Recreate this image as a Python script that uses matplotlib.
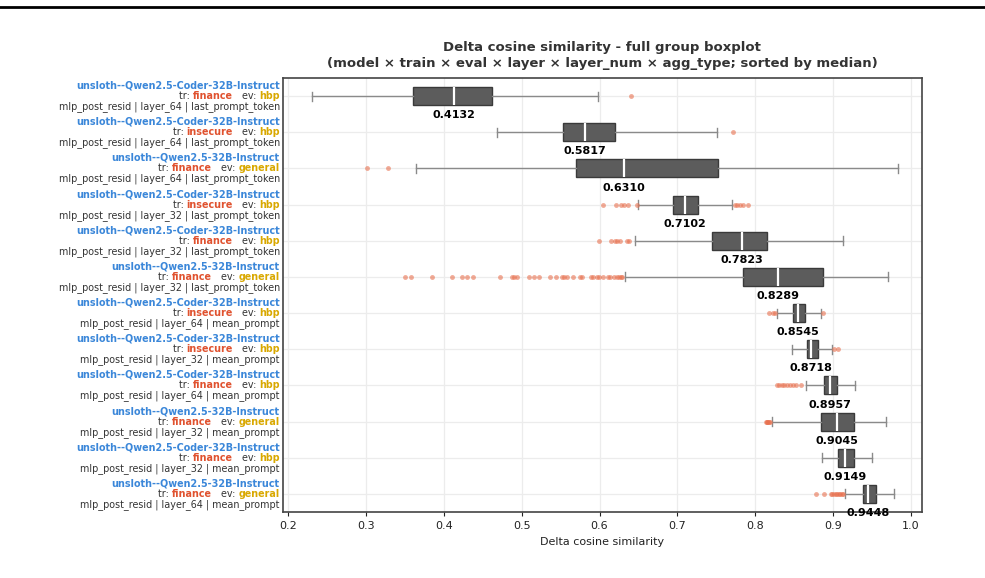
"""
Delta cosine similarity - full group boxplot, one box per
(model, train, eval, layer, layer_num, agg_type) group, sorted by median.
"""
import matplotlib
matplotlib.use("Agg")
import matplotlib.pyplot as plt
from matplotlib.lines import Line2D

# Group labels (top to bottom)
models = [
    "unsloth--Qwen2.5-Coder-32B-Instruct",
    "unsloth--Qwen2.5-Coder-32B-Instruct",
    "unsloth--Qwen2.5-32B-Instruct",
    "unsloth--Qwen2.5-Coder-32B-Instruct",
    "unsloth--Qwen2.5-Coder-32B-Instruct",
    "unsloth--Qwen2.5-32B-Instruct",
    "unsloth--Qwen2.5-Coder-32B-Instruct",
    "unsloth--Qwen2.5-Coder-32B-Instruct",
    "unsloth--Qwen2.5-Coder-32B-Instruct",
    "unsloth--Qwen2.5-32B-Instruct",
    "unsloth--Qwen2.5-Coder-32B-Instruct",
    "unsloth--Qwen2.5-32B-Instruct",
]
train_sets = ["finance", "insecure", "finance", "insecure", "finance", "finance",
              "insecure", "insecure", "finance", "finance", "finance", "finance"]
eval_sets = ["hbp", "hbp", "general", "hbp", "hbp", "general",
             "hbp", "hbp", "hbp", "general", "hbp", "general"]
layer_info = [
    "mlp_post_resid | layer_64 | last_prompt_token",
    "mlp_post_resid | layer_64 | last_prompt_token",
    "mlp_post_resid | layer_64 | last_prompt_token",
    "mlp_post_resid | layer_32 | last_prompt_token",
    "mlp_post_resid | layer_32 | last_prompt_token",
    "mlp_post_resid | layer_32 | last_prompt_token",
    "mlp_post_resid | layer_64 | mean_prompt",
    "mlp_post_resid | layer_32 | mean_prompt",
    "mlp_post_resid | layer_64 | mean_prompt",
    "mlp_post_resid | layer_32 | mean_prompt",
    "mlp_post_resid | layer_32 | mean_prompt",
    "mlp_post_resid | layer_64 | mean_prompt",
]

# Box statistics
medians = [0.4132, 0.5817, 0.6310, 0.7102, 0.7823, 0.8289,
           0.8545, 0.8718, 0.8957, 0.9045, 0.9149, 0.9448]
q1 = [0.361, 0.5526, 0.5697, 0.6947, 0.745, 0.784,
      0.8487, 0.8667, 0.8882, 0.8842, 0.9065, 0.9385]
q3 = [0.4615, 0.6194, 0.752, 0.7268, 0.815, 0.8868,
      0.864, 0.8808, 0.9054, 0.927, 0.9266, 0.9548]
whis_lo = [0.2304, 0.4687, 0.3647, 0.649, 0.6455, 0.6326,
           0.8277, 0.8466, 0.865, 0.8218, 0.8859, 0.915]
whis_hi = [0.5975, 0.7507, 0.983, 0.7696, 0.913, 0.970,
           0.8842, 0.8987, 0.9275, 0.968, 0.950, 0.9783]
fliers = [
    [0.640],
    [0.771],
    [0.301, 0.328],
    [0.605, 0.6207, 0.627, 0.632, 0.636, 0.6476,
     0.774, 0.777, 0.780, 0.7845, 0.7909],
    [0.599, 0.6146, 0.620, 0.623, 0.626, 0.635, 0.638],
    [0.3506, 0.3579, 0.3849, 0.4105, 0.4238, 0.4298, 0.4371, 0.4726,
     0.4880, 0.4906, 0.4940, 0.5094, 0.5154, 0.5218, 0.5368, 0.5436,
     0.5517, 0.5543, 0.5586, 0.5654, 0.5748, 0.5774, 0.5890, 0.5919,
     0.5963, 0.5988, 0.6039, 0.6104, 0.6133, 0.6189, 0.6219, 0.6253,
     0.6271, 0.6292],
    [0.817, 0.823, 0.8256, 0.8864],
    [0.9009, 0.9056],
    [0.8273, 0.8305, 0.834, 0.837, 0.841, 0.8445, 0.848, 0.852, 0.8581],
    [0.8132, 0.8145, 0.8155, 0.8165, 0.8175, 0.8187],
    [],
    [0.8774, 0.8881, 0.8966, 0.899, 0.901, 0.903, 0.905, 0.907,
     0.909, 0.911, 0.913],
]

BLUE = "#3b87d9"
RED = "#e0522f"
GOLD = "#d9a800"
GRAY_TEXT = "#333333"
BOX_FILL = "#5c5c5c"
FLIER = "#e8714f"
LABEL_FS = 6.9

fig = plt.figure(figsize=(9.85, 5.78), dpi=100)
ax = fig.add_axes([283 / 985, 1 - 512 / 578, (922 - 283) / 985, (512 - 78) / 578])

n = len(medians)
stats = []
for i in range(n):
    stats.append(dict(med=medians[i], q1=q1[i], q3=q3[i],
                      whislo=whis_lo[i], whishi=whis_hi[i], fliers=fliers[i]))

ax.bxp(stats, positions=list(range(n)), vert=False, widths=0.5,
       patch_artist=True, showfliers=True,
       boxprops=dict(facecolor=BOX_FILL, edgecolor="#3a3a3a", linewidth=1.0),
       medianprops=dict(color="white", linewidth=1.6),
       whiskerprops=dict(color="#8a8a8a", linewidth=1.0),
       capprops=dict(color="#8a8a8a", linewidth=1.0),
       flierprops=dict(marker="o", markersize=3.5, markerfacecolor=FLIER,
                       markeredgecolor="none", alpha=0.6))

# Median values under each box
for i, m in enumerate(medians):
    ax.text(m, i + 0.53, f"{m:.4f}", ha="center", va="center",
            fontsize=8, fontweight="bold", color="black", zorder=5)

ax.set_ylim(n - 0.5, -0.5)
ax.set_xlim(0.1936, 1.014)
ax.set_xticks([0.2, 0.3, 0.4, 0.5, 0.6, 0.7, 0.8, 0.9, 1.0])
ax.set_yticks(range(n))
ax.set_yticklabels([])
ax.tick_params(axis="y", length=0)
ax.tick_params(axis="x", labelsize=8, colors="#222222", length=3)
ax.grid(True, color="#ececec", linewidth=0.9, zorder=0)
ax.set_axisbelow(True)
for side in ["top", "right", "bottom", "left"]:
    ax.spines[side].set_color("#444444")
    ax.spines[side].set_linewidth(1.2)
ax.set_xlabel("Delta cosine similarity", fontsize=8, color="#222222", labelpad=4)

# Multi-coloured y labels, right aligned just left of the axes
trans = ax.get_yaxis_transform()
x0 = -0.005
for i in range(n):
    ax.text(x0, i - 0.29, models[i], transform=trans, ha="right", va="center",
            fontsize=LABEL_FS, fontweight="bold", color=BLUE)
    t = ax.text(x0, i, eval_sets[i], transform=trans, ha="right", va="center",
                fontsize=LABEL_FS, fontweight="bold", color=GOLD)
    t = ax.annotate("   ev: ", xy=(0, 0), xycoords=t, ha="right", va="bottom",
                    fontsize=LABEL_FS, color=GRAY_TEXT)
    t = ax.annotate(train_sets[i], xy=(0, 0), xycoords=t, ha="right", va="bottom",
                    fontsize=LABEL_FS, fontweight="bold", color=RED)
    ax.annotate("tr: ", xy=(0, 0), xycoords=t, ha="right", va="bottom",
                fontsize=LABEL_FS, color=GRAY_TEXT)
    ax.text(x0, i + 0.29, layer_info[i], transform=trans, ha="right", va="center",
            fontsize=LABEL_FS, color=GRAY_TEXT)

fig.text(602 / 985, 1 - 47 / 578, "Delta cosine similarity - full group boxplot",
         ha="center", va="center", fontsize=9.5, fontweight="bold", color="#333333")
fig.text(602 / 985, 1 - 63 / 578,
         "(model \u00d7 train \u00d7 eval \u00d7 layer \u00d7 layer_num \u00d7 agg_type; sorted by median)",
         ha="center", va="center", fontsize=9.5, fontweight="bold", color="#333333")

# Black rule across the top of the page
fig.add_artist(Line2D([0, 1], [1 - 7 / 578, 1 - 7 / 578], transform=fig.transFigure,
                      color="black", linewidth=2))

fig.savefig("out.png", dpi=100, facecolor="white")
